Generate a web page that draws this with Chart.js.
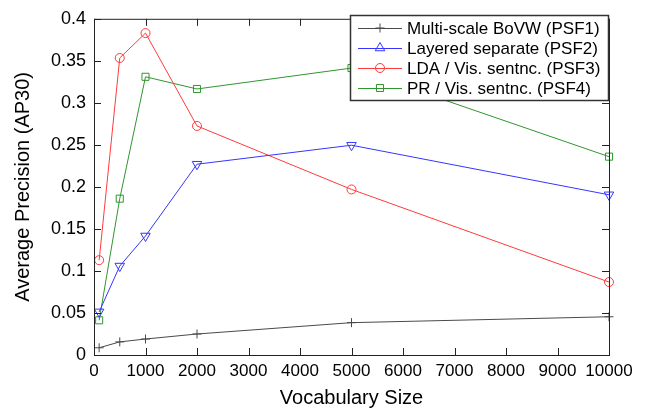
<!DOCTYPE html>
<html lang="en">
<head>
    <meta charset="UTF-8">
    <title>Vocabulary Size vs AP30</title>
    <script src="https://cdn.jsdelivr.net/npm/chart.js"></script>
    <style>
        body { margin: 0; background: #fff; }
        #wrap { width: 660px; height: 412px; }
    </style>
</head>
<body>
<div id="wrap"><canvas id="apChart" width="660" height="412"></canvas></div>
<script>
// vocabulary sizes (x values)
const vocabSizes = [100, 500, 1000, 2000, 5000, 10000];

// AP30 per method
const psf1 = [0.0086, 0.0156, 0.019, 0.025, 0.0385, 0.0455];
const psf2 = [0.0513, 0.1058, 0.1416, 0.227, 0.2496, 0.1906];
const psf3 = [0.1128, 0.3534, 0.383, 0.2725, 0.197, 0.0868];
const psf4 = [0.0413, 0.186, 0.331, 0.3165, 0.3414, 0.236];

const seriesNames = [
    'Multi-scale BoVW (PSF1)',
    'Layered separate (PSF2)',
    'LDA / Vis. sentnc. (PSF3)',
    'PR / Vis. sentnc. (PSF4)'
];

const FONT = '"Liberation Sans", Arial, sans-serif';

function pts(vals) {
    return vals.map((v, i) => ({ x: vocabSizes[i], y: v }));
}

function ds(label, vals, color, style, radius, rot) {
    return {
        label: label,
        data: pts(vals),
        borderColor: color,
        backgroundColor: 'rgba(0,0,0,0)',
        pointBorderColor: color,
        pointBackgroundColor: 'rgba(0,0,0,0)',
        borderWidth: 1,
        pointBorderWidth: 1,
        pointStyle: style,
        pointRadius: radius,
        pointRotation: rot || 0,
        tension: 0,
        clip: false
    };
}

// matlab-ish box with inward ticks on all sides
const boxPlugin = {
    id: 'box',
    afterDatasetsDraw(chart) {
        const { ctx, chartArea: a, scales } = chart;
        const len = 7;
        ctx.save();
        ctx.strokeStyle = '#222';
        ctx.lineWidth = 1;
        ctx.strokeRect(a.left + 0.5, a.top + 0.5, a.right - a.left, a.bottom - a.top);
        ctx.beginPath();
        scales.x.ticks.forEach(t => {
            const px = Math.round(scales.x.getPixelForValue(t.value)) + 0.5;
            ctx.moveTo(px, a.bottom); ctx.lineTo(px, a.bottom - len);
            ctx.moveTo(px, a.top); ctx.lineTo(px, a.top + len);
        });
        scales.y.ticks.forEach(t => {
            const py = Math.round(scales.y.getPixelForValue(t.value)) + 0.5;
            ctx.moveTo(a.left, py); ctx.lineTo(a.left + len, py);
            ctx.moveTo(a.right, py); ctx.lineTo(a.right - len, py);
        });
        ctx.stroke();
        ctx.restore();
    }
};

// legend box inside the top right corner
const legendPlugin = {
    id: 'insideLegend',
    afterDraw(chart) {
        const ctx = chart.ctx;
        const x0 = 350, y0 = 15, w = 258, h = 85;
        ctx.save();
        ctx.fillStyle = '#fff';
        ctx.fillRect(x0, y0, w, h);
        ctx.strokeStyle = '#333';
        ctx.lineWidth = 1.5;
        ctx.strokeRect(x0 + 0.5, y0 + 0.5, w, h);
        ctx.font = '17px ' + FONT;
        ctx.textBaseline = 'middle';
        chart.data.datasets.forEach((d, i) => {
            const y = y0 + 13 + i * 20;
            ctx.strokeStyle = d.borderColor;
            ctx.lineWidth = 1;
            ctx.beginPath();
            ctx.moveTo(358, y + 0.5);
            ctx.lineTo(402, y + 0.5);
            ctx.stroke();
            // hollow marker, triangle points up in the legend
            ctx.fillStyle = 'rgba(0,0,0,0)';
            Chart.helpers.drawPoint(ctx, {
                pointStyle: d.pointStyle,
                radius: d.pointRadius,
                rotation: 0,
                borderWidth: 1
            }, 380, y);
            ctx.fillStyle = '#000';
            ctx.fillText(seriesNames[i], 407, y + 1);
        });
        ctx.restore();
    }
};

const ctx = document.getElementById('apChart').getContext('2d');
const chart = new Chart(ctx, {
    type: 'line',
    data: {
        datasets: [
            ds(seriesNames[0], psf1, '#4a4a4a', 'cross', 4.5),
            ds(seriesNames[1], psf2, '#3535ff', 'triangle', 5.5, 180),
            ds(seriesNames[2], psf3, '#ff3b3b', 'circle', 4.5),
            ds(seriesNames[3], psf4, '#2f962f', 'rect', 5)
        ]
    },
    options: {
        responsive: false,
        animation: false,
        layout: { padding: { top: 12, right: 51, left: 0, bottom: 0 } },
        plugins: {
            legend: { display: false },
            tooltip: { enabled: false }
        },
        scales: {
            x: {
                type: 'linear',
                min: 0,
                max: 10000,
                afterFit: s => { s.height = 57; },
                grid: { display: false, drawTicks: false },
                border: { display: false },
                ticks: {
                    stepSize: 1000,
                    autoSkip: false,
                    padding: 6,
                    maxRotation: 0,
                    color: '#000',
                    font: { family: FONT, size: 17 },
                    callback: v => String(v)
                },
                title: {
                    display: true,
                    text: 'Vocabulary Size',
                    color: '#000',
                    font: { family: FONT, size: 20 },
                    padding: { top: 0, bottom: 2 }
                }
            },
            y: {
                min: 0,
                max: 0.4,
                afterFit: s => { s.width = 94; },
                grid: { display: false, drawTicks: false },
                border: { display: false },
                ticks: {
                    stepSize: 0.05,
                    padding: 8,
                    color: '#000',
                    font: { family: FONT, size: 18 },
                    callback: v => String(Math.round(v * 100) / 100)
                },
                title: {
                    display: true,
                    text: 'Average Precision (AP30)',
                    color: '#000',
                    font: { family: FONT, size: 20 },
                    padding: { top: 11, bottom: 0 }
                }
            }
        }
    },
    plugins: [boxPlugin, legendPlugin]
});
</script>
</body>
</html>
